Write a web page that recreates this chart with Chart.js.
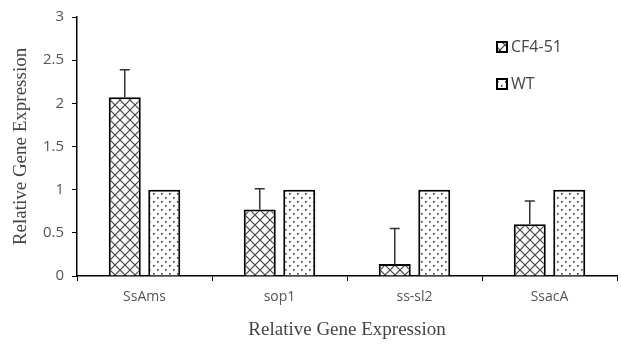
<!DOCTYPE html>
<html>
<head>
<meta charset="utf-8">
<script src="https://cdn.jsdelivr.net/npm/chart.js@4.4.0/dist/chart.umd.min.js"></script>
<style>
  html, body { margin: 0; padding: 0; background: #fff; }
  #wrap { width: 621px; height: 345px; }
</style>
</head>
<body>
<div id="wrap"><canvas id="canvas" width="621" height="345"></canvas></div>
<script>
var genes = ['SsAms', 'sop1', 'ss-sl2', 'SsacA'];
var cfValues = [2.07, 0.77, 0.14, 0.60];
var cfErrors = [0.32, 0.24, 0.41, 0.27];
var wtValues = [1, 1, 1, 1];
var yTicks = [0, 0.5, 1, 1.5, 2, 2.5, 3];

function crossPattern() {
  var c = document.createElement('canvas');
  c.width = 10; c.height = 10;
  var g = c.getContext('2d');
  g.fillStyle = '#fff';
  g.fillRect(0, 0, 10, 10);
  g.strokeStyle = '#444';
  g.lineWidth = 1.2;
  g.beginPath();
  g.moveTo(-1, -1); g.lineTo(11, 11);
  g.moveTo(11, -1); g.lineTo(-1, 11);
  g.stroke();
  return g.createPattern(c, 'repeat');
}

function dotPattern() {
  var c = document.createElement('canvas');
  c.width = 8; c.height = 8;
  var g = c.getContext('2d');
  g.fillStyle = '#fff';
  g.fillRect(0, 0, 8, 8);
  g.fillStyle = '#333';
  g.fillRect(1, 1, 1.6, 1.6);
  g.fillRect(5, 5, 1.6, 1.6);
  return g.createPattern(c, 'repeat');
}

var errorBars = {
  id: 'errorBars',
  afterDatasetsDraw: function (chart) {
    var ctx = chart.ctx;
    var meta = chart.getDatasetMeta(0);
    var y = chart.scales.y;
    ctx.save();
    ctx.strokeStyle = '#333';
    ctx.lineWidth = 1.5;
    meta.data.forEach(function (bar, i) {
      var top = y.getPixelForValue(cfValues[i] + cfErrors[i]);
      ctx.beginPath();
      ctx.moveTo(bar.x, bar.y);
      ctx.lineTo(bar.x, top);
      ctx.moveTo(bar.x - 5, top);
      ctx.lineTo(bar.x + 5, top);
      ctx.stroke();
    });
    ctx.restore();
  }
};

var sideLegend = {
  id: 'sideLegend',
  afterDraw: function (chart) {
    var ctx = chart.ctx;
    var rows = [47, 84];
    ctx.save();
    chart.data.datasets.forEach(function (ds, i) {
      var x = 497, yy = rows[i];
      ctx.fillStyle = ds.backgroundColor;
      ctx.fillRect(x, yy - 5, 10, 10);
      ctx.strokeStyle = '#000';
      ctx.lineWidth = 2;
      ctx.strokeRect(x, yy - 5, 10, 10);
      ctx.fillStyle = '#444';
      ctx.font = '16px "Open Sans", sans-serif';
      ctx.textBaseline = 'middle';
      ctx.fillText(ds.label, x + 14, yy);
    });
    ctx.restore();
  }
};

var options = {
  type: 'bar',
  data: {
    labels: genes,
    datasets: [
      {
        label: 'CF4-51',
        data: cfValues,
        backgroundColor: crossPattern(),
        borderColor: '#000',
        borderWidth: 2,
        barPercentage: 0.81,
        categoryPercentage: 0.585
      },
      {
        label: 'WT',
        data: wtValues,
        backgroundColor: dotPattern(),
        borderColor: '#000',
        borderWidth: 2,
        barPercentage: 0.81,
        categoryPercentage: 0.585
      }
    ]
  },
  options: {
    responsive: false,
    animation: false,
    layout: { padding: { left: 6, right: 4, top: 16, bottom: 0 } },
    plugins: {
      legend: { display: false },
      tooltip: { enabled: false }
    },
    scales: {
      x: {
        grid: {
          offset: true,
          drawOnChartArea: false,
          color: '#000',
          tickLength: 5,
          tickWidth: 1
        },
        border: { color: '#000', width: 1.5 },
        ticks: {
          color: '#555',
          font: { family: 'Open Sans', size: 14 },
          padding: 8
        },
        title: {
          display: true,
          text: 'Relative Gene Expression',
          color: '#444',
          font: { family: 'Liberation Serif', size: 19 },
          padding: { top: 6 }
        },
        afterFit: function (s) { s.height = 69; }
      },
      y: {
        min: 0,
        max: 3,
        afterBuildTicks: function (s) {
          s.ticks = yTicks.map(function (v) { return { value: v }; });
        },
        grid: {
          drawOnChartArea: false,
          color: '#000',
          tickLength: 5
        },
        border: { color: '#000', width: 1.5 },
        ticks: {
          color: '#555',
          font: { family: 'Open Sans', size: 15 },
          padding: 8,
          callback: function (v) { return String(v); }
        },
        title: {
          display: true,
          text: 'Relative Gene Expression',
          color: '#444',
          font: { family: 'Liberation Serif', size: 19 },
          padding: { bottom: 2 }
        },
        afterFit: function (s) { s.width = 71; }
      }
    }
  },
  plugins: [errorBars, sideLegend]
};

var ctx = document.getElementById('canvas').getContext('2d');
new Chart(ctx, options);
</script>
</body>
</html>
